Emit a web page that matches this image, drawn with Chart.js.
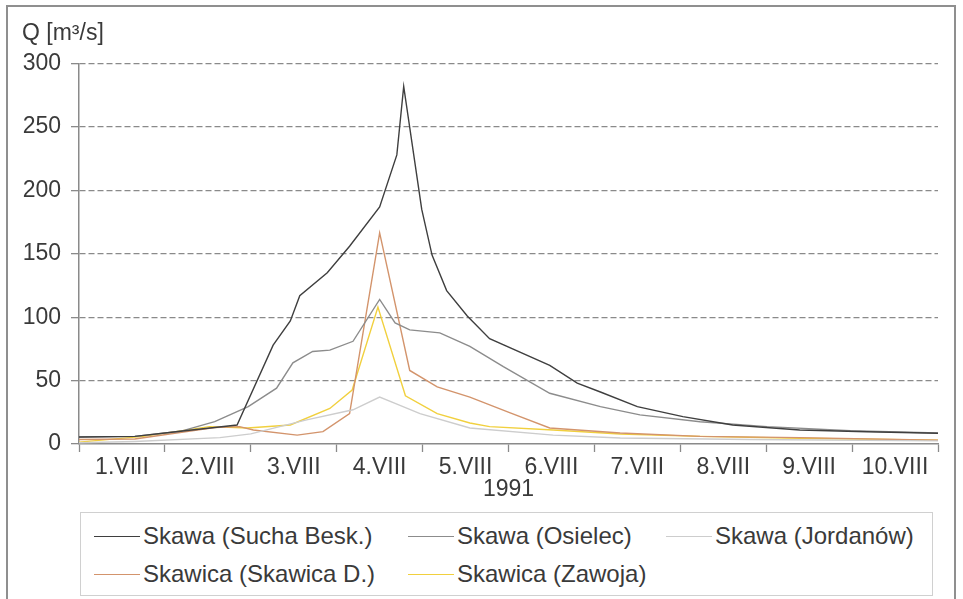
<!DOCTYPE html>
<html>
<head>
<meta charset="utf-8">
<script src="https://cdn.jsdelivr.net/npm/chart.js@4.4.1/dist/chart.umd.min.js"></script>
<style>
  html, body { margin: 0; padding: 0; background: #fff; }
  #wrap { position: relative; width: 963px; height: 599px; overflow: hidden; background: #fff; }
  #frame { position: absolute; left: 6px; top: 5px; width: 950px; height: 700px; border: 2px solid #8f8f8f; box-sizing: border-box; }
  canvas { position: absolute; left: 0; top: 0; }
  #legend { position: absolute; left: 80px; top: 512px; width: 853px; height: 84px; border: 1px solid #d0d0d0; box-sizing: border-box; background: #fff;
            font-family: "Liberation Sans", Arial, sans-serif; font-size: 24px; color: #3a3a3a; }
  .item { position: absolute; display: flex; align-items: center; white-space: nowrap; height: 30px; }
  .swatch { width: 46px; height: 0; border-top: 1.5px solid; margin-right: 3px; }
</style>
</head>
<body>
<div id="wrap">
  <div id="frame"></div>
  <canvas id="c" width="963" height="599"></canvas>
  <div id="legend"></div>
</div>
<script>
// Discharge Q [m3/s], time in days from 1 August 1991 00:00
const dayLabels = ['1.VIII','2.VIII','3.VIII','4.VIII','5.VIII','6.VIII','7.VIII','8.VIII','9.VIII','10.VIII'];
const yTicks = [0, 50, 100, 150, 200, 250, 300];

const suchaT = [0,0.65,1.18,1.58,1.84,2.26,2.46,2.57,2.89,3.15,3.50,3.70,3.78,3.99,4.11,4.28,4.52,4.78,5.48,5.80,6.07,6.50,7.03,7.61,8.39,9.17,10];
const suchaQ = [5.5,6,10,13,15,78,97,117,135,156,187,228,282,185,149,121,101,83,62,48,41,29.5,21.6,15,11,9.7,8.5];

const osielecT = [0,0.65,1.18,1.58,1.97,2.30,2.49,2.72,2.92,3.19,3.50,3.68,3.85,4.20,4.55,4.94,5.48,6.07,6.53,7.23,8.01,8.98,10];
const osielecQ = [5.5,6,10,17.6,29.5,44,64,73,74,81,114,95.5,90,87.6,77,61,40,29.5,23,17.6,13.7,10.5,8.7];

const jordanowT = [0,0.65,1.64,2.0,2.65,3.19,3.50,3.68,3.97,4.55,5.52,6.30,7.81,10];
const jordanowQ = [1,2,5,8,19,27,37,32,24,12.6,7,4.7,3.5,2.5];

const skawicaDT = [0,0.65,1.58,1.87,2.03,2.54,2.84,3.15,3.50,3.85,4.17,4.55,5.02,5.48,6.30,7.23,8.39,10];
const skawicaDQ = [3.5,4,13,13.7,11,7,9.7,24,166.5,58,45,37,24.5,12.6,8.7,6,5,3];

const zawojaT = [0,0.75,1.52,1.96,2.46,2.92,3.18,3.48,3.80,4.17,4.55,4.78,5.52,6.30,7.23,8.39,10];
const zawojaQ = [1.5,6,13.7,12.6,15,28,42.6,108,38,24,16.6,13.7,11,7.9,6,4.5,3];

const seriesNames = ['Skawa (Sucha Besk.)','Skawa (Osielec)','Skawa (Jordanów)','Skawica (Skawica D.)','Skawica (Zawoja)'];
const seriesT = [suchaT, osielecT, jordanowT, skawicaDT, zawojaT];
const seriesQ = [suchaQ, osielecQ, jordanowQ, skawicaDQ, zawojaQ];
const seriesColors = ['#3f3f3f','#8c8c8c','#cdcdcd','#d3946c','#f1d03e'];

const FONT = '"Liberation Sans", Arial, sans-serif';
const TEXT = '#3a3a3a';
const GRID = '#8a8a8a';

const datasets = seriesNames.map((name, i) => ({
  label: name,
  data: seriesT[i].map((t, k) => ({ x: t, y: seriesQ[i][k] })),
  borderColor: seriesColors[i],
  backgroundColor: seriesColors[i],
  borderWidth: 1.4,
  pointRadius: 0,
  tension: 0,
  fill: false
}));

new Chart(document.getElementById('c'), {
  type: 'line',
  data: { datasets },
  options: {
    responsive: false,
    animation: false,
    devicePixelRatio: 1,
    layout: { padding: { left: 22, right: 25, top: 0, bottom: 96 } },
    plugins: {
      legend: { display: false },
      tooltip: { enabled: false },
      title: {
        display: true,
        text: 'Q [m³/s]',
        align: 'start',
        color: TEXT,
        font: { family: FONT, size: 23, weight: 'normal', lineHeight: 1.2 },
        padding: { top: 20, bottom: 16 }
      }
    },
    scales: {
      x: {
        type: 'linear',
        min: 0,
        max: 10,
        // tick marks on day boundaries, day names centred between them
        afterBuildTicks: (scale) => {
          const t = [];
          for (let v = 0; v <= 10; v += 0.5) t.push({ value: v });
          scale.ticks = t;
        },
        afterFit: (scale) => { scale.height = 59; },
        ticks: {
          autoSkip: false,
          maxRotation: 0,
          padding: 2,
          color: TEXT,
          font: { family: FONT, size: 23, lineHeight: 1.2 },
          callback: (v) => Number.isInteger(v) ? '' : dayLabels[Math.floor(v)]
        },
        grid: {
          drawOnChartArea: false,
          drawTicks: true,
          tickLength: 8,
          tickWidth: 1.3,
          tickColor: (ctx) => (ctx.tick && Number.isInteger(ctx.tick.value)) ? GRID : 'rgba(0,0,0,0)'
        },
        border: { display: true, color: GRID, width: 1.5 },
        title: {
          display: true,
          text: '1991',
          color: TEXT,
          font: { family: FONT, size: 23, lineHeight: 1.2 },
          padding: 0
        }
      },
      y: {
        min: 0,
        max: 300,
        afterBuildTicks: (scale) => { scale.ticks = yTicks.map(v => ({ value: v })); },
        afterFit: (scale) => { scale.width = 57; },
        ticks: {
          padding: 10,
          color: TEXT,
          font: { family: FONT, size: 23, lineHeight: 1.2 }
        },
        grid: {
          color: (ctx) => (ctx.tick && ctx.tick.value === 0) ? 'rgba(0,0,0,0)' : GRID,
          lineWidth: 1.3,
          tickLength: 8,
          tickColor: GRID,
          tickWidth: 1.3
        },
        // dashed horizontal grid lines
        border: { display: true, color: GRID, width: 1.5, dash: [6, 3] }
      }
    }
  }
});

// Legend laid out in three columns
const legendPos = [[13, 8], [327, 8], [585, 8], [13, 46], [327, 46]];
const legend = document.getElementById('legend');
seriesNames.forEach((name, i) => {
  const item = document.createElement('div');
  item.className = 'item';
  item.style.left = legendPos[i][0] + 'px';
  item.style.top = legendPos[i][1] + 'px';
  const sw = document.createElement('div');
  sw.className = 'swatch';
  sw.style.borderTopColor = seriesColors[i];
  const tx = document.createElement('span');
  tx.textContent = name;
  item.appendChild(sw);
  item.appendChild(tx);
  legend.appendChild(item);
});
</script>
</body>
</html>
